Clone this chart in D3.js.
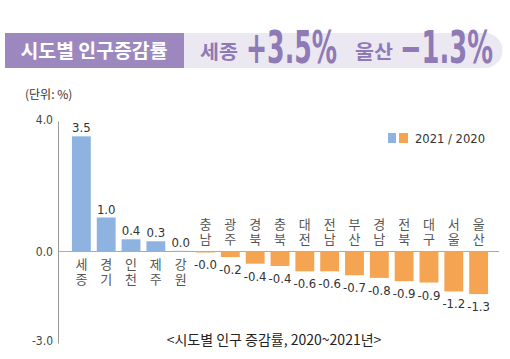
<!DOCTYPE html>
<html><head><meta charset="utf-8">
<script src="https://cdn.jsdelivr.net/npm/d3@7"></script>
<style>
html,body{margin:0;padding:0;background:#fff;}
svg{display:block;}
</style></head>
<body>
<svg id="chart" width="510" height="359"></svg>
<script>
const categories = ["세종","경기","인천","제주","강원","충남","광주","경북","충북","대전","전남","부산","경남","전북","대구","서울","울산"];
const values = [3.49,1.03,0.37,0.31,0.02,-0.03,-0.17,-0.37,-0.44,-0.6,-0.6,-0.72,-0.8,-0.9,-0.94,-1.21,-1.29];
const yTicks = [4,0,-3];
const legendLabel = "2021 / 2020";
const unitLabel = "(단위: %)";
const caption = "<시도별 인구 증감률, 2020~2021년>";
const titleMain = "시도별 인구증감률";
const highlights = [{name:"세종", val:"+3.5%"},{name:"울산", val:"\u22121.3%"}];

const svg = d3.select("#chart");
const numFont = "'DejaVu Sans Condensed','Liberation Sans Narrow','DejaVu Sans',sans-serif";
const korFont = "'Noto Sans CJK KR','Noto Sans',sans-serif";
const purple = "#8e7ab6", blue = "#8fb3e1", orange = "#f5a452";

// ---- title banner ----
svg.append("rect").attr("x",5).attr("y",33).attr("width",179).attr("height",35).attr("fill","#9c88bf");
svg.append("path").attr("d","M184,33 H485 A17.5,17.5 0 0 1 485,68 H184 Z").attr("fill","#ece8f2");
svg.append("text").attr("x",94).attr("y",58).attr("text-anchor","middle")
  .attr("font-family",korFont).attr("font-weight",700).attr("font-size",19).attr("fill","#fff")
  .attr("textLength",147).attr("lengthAdjust","spacingAndGlyphs").text(titleMain);
const hx = [[200,38,246,91],[355,38,400,93]];
highlights.forEach((h,i)=>{
  svg.append("text").attr("x",hx[i][0]).attr("y",59).attr("font-family",korFont).attr("font-weight",700)
    .attr("font-size",19).attr("fill",purple).attr("textLength",hx[i][1]).attr("lengthAdjust","spacingAndGlyphs").text(h.name);
  svg.append("text").attr("x",hx[i][2]).attr("y",63).attr("font-family",numFont).attr("font-weight",700)
    .attr("font-size",44).attr("fill",purple).attr("textLength",hx[i][3]).attr("lengthAdjust","spacingAndGlyphs").text(h.val);
});

// ---- scales ----
const x = d3.scaleBand().domain(categories).range([63,497]).paddingInner(0.24).paddingOuter(0.36);
const y = d3.scaleLinear().domain([-3,4]).range([350.5,119.5]);
const axisX = 58.5;

// unit
svg.append("text").attr("x",25).attr("y",99).attr("font-family",korFont).attr("font-size",12).attr("fill","#333").text(unitLabel);

// y axis line
svg.append("line").attr("x1",axisX).attr("x2",axisX).attr("y1",y(4)+2).attr("y2",y(-3)-7).attr("stroke","#999").attr("stroke-width",1);
// zero line
svg.append("line").attr("x1",axisX).attr("x2",499).attr("y1",y(0)).attr("y2",y(0)).attr("stroke","#aaa").attr("stroke-width",1.2);

// ticks
svg.selectAll(".ytick").data(yTicks).join("text").attr("class","ytick")
  .attr("x",53).attr("y",d=>d===-3? y(d)-6 : y(d)+4.5).attr("text-anchor","end")
  .attr("font-family",numFont).attr("font-size",12).attr("fill","#444").text(d=>d.toFixed(1));

// bars
const data = categories.map((c,i)=>({c, v:values[i]}));
svg.selectAll(".bar").data(data).join("rect").attr("class","bar")
  .attr("x",d=>x(d.c)).attr("width",x.bandwidth())
  .attr("y",d=>Math.min(y(d.v),y(0))).attr("height",d=>Math.abs(y(d.v)-y(0)))
  .attr("fill",d=>d.v>=0?blue:orange);

// value labels
svg.selectAll(".val").data(data).join("text").attr("class","val")
  .attr("x",d=>x(d.c)+x.bandwidth()/2)
  .attr("y",d=>d.v>=0? y(d.v)-4 : y(d.v)+17)
  .attr("text-anchor","middle").attr("font-family",numFont).attr("font-size",13).attr("fill","#333")
  .text(d=>d.v.toFixed(1));

// category labels stacked (one text, one tspan per character)
data.forEach(d=>{
  const chars = Array.from(d.c);
  const cx = x(d.c)+x.bandwidth()/2;
  const base = d.v>=0 ? y(0)+17 : y(0)-23;
  const t = svg.append("text").attr("text-anchor","middle")
    .attr("font-family",korFont).attr("font-size",13).attr("fill","#555");
  chars.forEach((ch,j)=>{
    t.append("tspan").attr("x",cx).attr("y",base+j*15.5).text(ch);
  });
});

// legend
svg.append("rect").attr("x",388).attr("y",133).attr("width",8).attr("height",10).attr("fill",blue);
svg.append("rect").attr("x",399).attr("y",133).attr("width",9).attr("height",10).attr("fill",orange);
svg.append("text").attr("x",415).attr("y",143).attr("font-family",numFont).attr("font-size",13).attr("font-weight",500)
  .attr("fill","#333").attr("textLength",70).attr("lengthAdjust","spacingAndGlyphs").text(legendLabel);

// caption
svg.append("text").attr("x",274).attr("y",345).attr("text-anchor","middle").attr("font-family",korFont)
  .attr("font-size",14).attr("fill","#222").text(caption);
</script>
</body></html>
